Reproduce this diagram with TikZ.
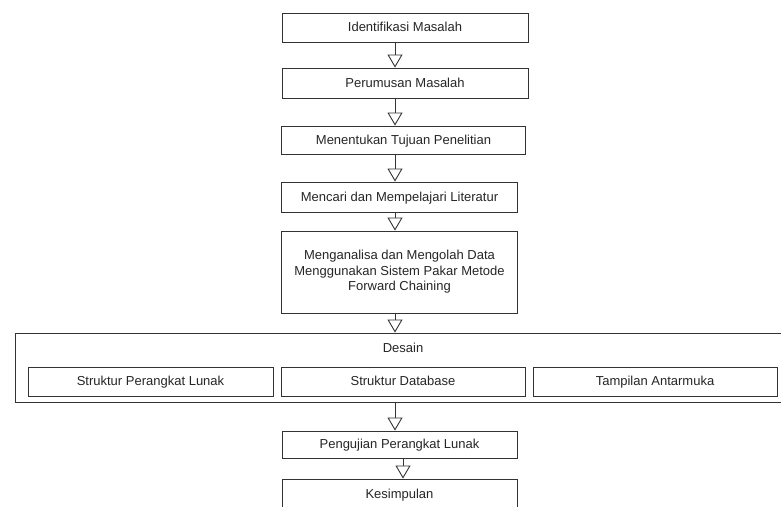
\documentclass[tikz,border=0pt]{standalone}
\usepackage{fontspec}
\setmainfont{Liberation Sans}
\usetikzlibrary{arrows.meta}
\begin{document}
\begin{tikzpicture}[x=1pt,y=-1pt,
  lbl/.style={font=\fontsize{13}{15.5}\selectfont, text=black!85},
  box/.style={lbl, draw=black!80, line width=0.9pt, rectangle, inner sep=0pt,
    text height=10.4pt, text depth=2pt},
  tallbox/.style={lbl, draw=black!80, line width=0.9pt, rectangle, inner sep=0pt,
    align=center},
  flow/.style={draw=black!80, line width=0.9pt,
    -{Triangle[open, length=13pt, width=15pt, line width=0.9pt]}, fill=white}]
\useasboundingbox (0,0) rectangle (781,506);
\clip (0,0) rectangle (781,506);
\fill[white] (0,0) rectangle (781,506);

% main sequence of steps
\node[box, minimum width=246pt, minimum height=29pt] (s1) at (405,27.5) {Identifikasi Masalah};
\node[box, minimum width=246pt, minimum height=30pt] (s2) at (405,83) {Perumusan Masalah};
\node[box, minimum width=244pt, minimum height=28pt] (s3) at (403.5,140) {Menentukan Tujuan Penelitian};
\node[box, minimum width=236pt, minimum height=30pt] (s4) at (399.5,197) {Mencari dan Mempelajari Literatur};
\node[tallbox, minimum width=236pt, minimum height=82pt] (s5) at (399.5,272) {Menganalisa dan Mengolah Data\\Menggunakan Sistem Pakar Metode\\Forward Chaining};

% design group
\node[box, minimum width=776pt, minimum height=69pt] (dg) at (403,367.5) {};
\node[lbl, text height=10.4pt, text depth=2pt] (dt) at (403,348) {Desain};
\node[box, minimum width=245pt, minimum height=29pt] (d1) at (150.5,381.5) {Struktur Perangkat Lunak};
\node[box, minimum width=244pt, minimum height=29pt] (d2) at (403,381.5) {Struktur Database};
\node[box, minimum width=244pt, minimum height=29pt] (d3) at (655,381.5) {Tampilan Antarmuka};

% testing and conclusion
\node[box, minimum width=235pt, minimum height=27pt] (s6) at (399.5,444.5) {Pengujian Perangkat Lunak};
\node[box, minimum width=235pt, minimum height=30pt] (s7) at (399.5,494) {Kesimpulan};

% connector columns
\coordinate (ax) at (395,0);
\coordinate (bx) at (403,0);

\draw[flow] (s1.south -| ax) -- (s2.north -| ax);
\draw[flow] (s2.south -| ax) -- (s3.north -| ax);
\draw[flow] (s3.south -| ax) -- (s4.north -| ax);
\draw[flow] (s4.south -| ax) -- (s5.north -| ax);
\draw[flow] (s5.south -| ax) -- (dg.north -| ax);
\draw[flow] (dg.south -| ax) -- (s6.north -| ax);
\draw[flow] (s6.south -| bx) -- (s7.north -| bx);
\end{tikzpicture}
\end{document}
